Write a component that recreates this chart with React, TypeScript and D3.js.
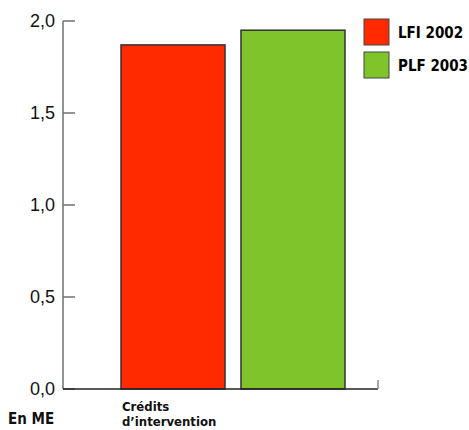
import React from "react";
import * as d3 from "d3";

const categories = ["Crédits d’intervention"];
const seriesNames = ["LFI 2002", "PLF 2003"];
const seriesValues = [1.87, 1.95];
const seriesColors = ["#ff2a00", "#7ec42a"];
const yTicks = [0, 0.5, 1.0, 1.5, 2.0];
const unitLabel = "En ME";

const W = 469;
const H = 430;

export default function App() {
  const x0 = 63;
  const yScale = d3.scaleLinear().domain([0, 2]).range([389, 21]);
  const xScale = d3.scaleBand<string>().domain(seriesNames).range([121, 345]).paddingInner(0.133).paddingOuter(0);
  const fmt = (v: number) => d3.format(".1f")(v).replace(".", ",");
  const label = "'DejaVu Sans Condensed', 'Liberation Sans Narrow', sans-serif";

  return (
    <svg width={W} height={H} style={{ position: "absolute", left: 0, top: 0 }}>
      {/* bars */}
      {seriesNames.map((s, i) => (
        <rect
          key={s}
          x={xScale(s)!}
          y={yScale(seriesValues[i])}
          width={xScale.bandwidth()}
          height={yScale(0) - yScale(seriesValues[i])}
          fill={seriesColors[i]}
          stroke="#333"
          strokeWidth={1.5}
        />
      ))}
      {/* y axis */}
      <line x1={x0} x2={x0} y1={yScale(2)} y2={yScale(0)} stroke="#707070" strokeWidth={1.5} />
      {yTicks.map((t) => (
        <g key={t}>
          <line x1={x0} x2={x0 + 12} y1={yScale(t)} y2={yScale(t)} stroke="#707070" strokeWidth={1.5} />
          <text
            x={55}
            y={yScale(t) + 6}
            textAnchor="end"
            fontFamily="'Liberation Sans', Arial, sans-serif"
            fontSize={18}
            fill="#111"
          >
            {fmt(t)}
          </text>
        </g>
      ))}
      {/* baseline */}
      <line x1={x0} x2={378} y1={yScale(0)} y2={yScale(0)} stroke="#222" strokeWidth={1.5} />
      <line x1={378} x2={378} y1={yScale(0) - 9} y2={yScale(0)} stroke="#888" strokeWidth={1.5} />
      {/* unit label */}
      <text x={8} y={424} fontFamily={label} fontWeight="bold" fontSize={15} fill="#111">
        {unitLabel}
      </text>
      {/* category label */}
      <text x={122} y={411} fontFamily={label} fontWeight="bold" fontSize={13} fill="#111">
        {categories[0].split(" ").map((w, i) => (
          <tspan key={i} x={122} dy={i === 0 ? 0 : 15}>
            {w}
          </tspan>
        ))}
      </text>
      {/* legend */}
      {seriesNames.map((s, i) => (
        <g key={s} transform={`translate(364, ${19 + i * 33})`}>
          <rect width={25} height={26} fill={seriesColors[i]} stroke="#444" strokeWidth={1} />
          <text x={34} y={19} fontFamily={label} fontWeight="bold" fontSize={15} fill="#000">
            {s}
          </text>
        </g>
      ))}
    </svg>
  );
}
